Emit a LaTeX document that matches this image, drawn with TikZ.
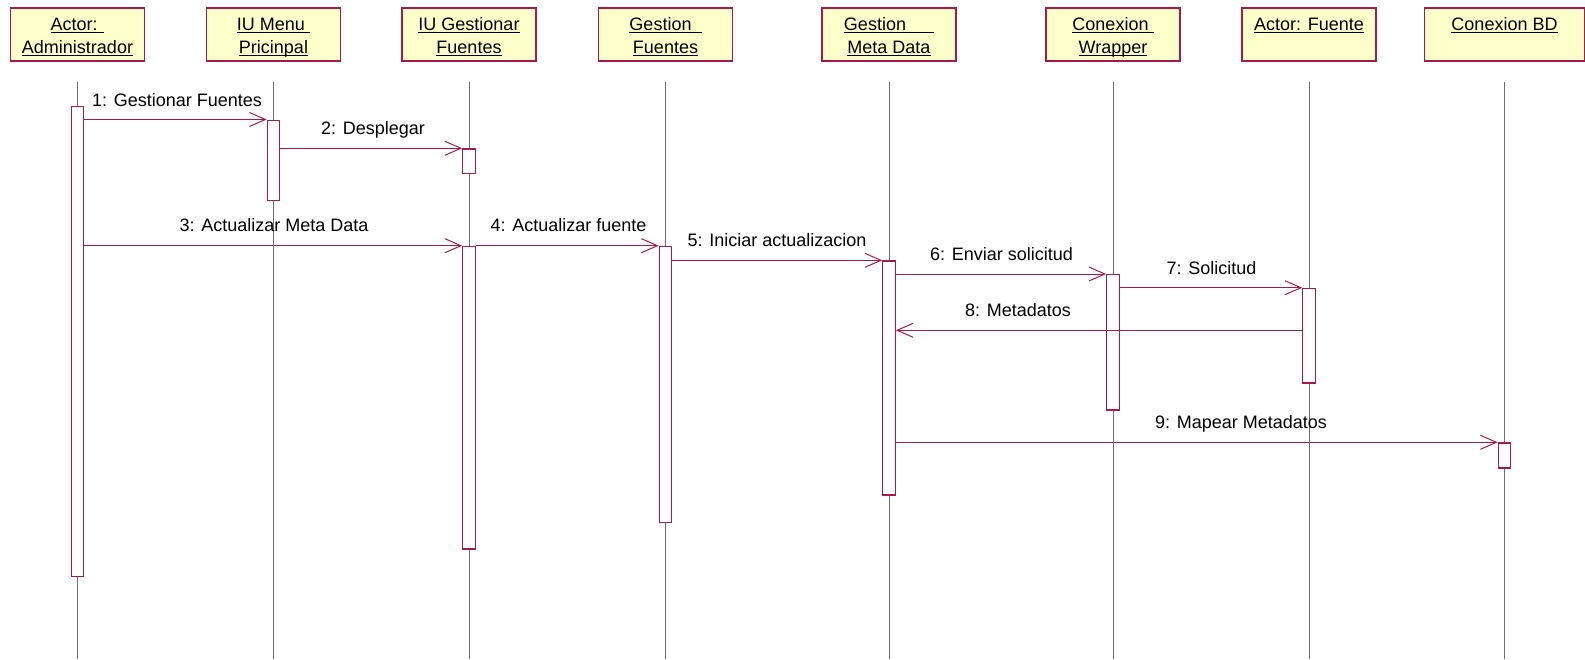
\documentclass[tikz,border=0pt]{standalone}
\usepackage{fontspec}
\setmainfont{Liberation Sans}
\usetikzlibrary{arrows.meta}

\definecolor{umlred}{RGB}{165,25,75}
\definecolor{objfill}{RGB}{255,255,204}
\definecolor{lifegray}{RGB}{110,110,110}

% underlined object name, rule set just below the baseline
\newcommand\ult[1]{\leavevmode\setbox0\hbox{#1}\rlap{\rule[-2.2pt]{\wd0}{1pt}}\box0}
% two-line object header, text hanging from the top of the box
\newcommand\hdtext[2]{\parbox[c][53pt][t]{134pt}{\centering\baselineskip=22.7pt
  \rule{0pt}{22.7pt}\ult{#1}\par\ult{#2}\par}}

\tikzset{
  objbox/.style={draw=umlred, line width=1.2pt, fill=objfill, inner sep=0pt,
    minimum width=134pt, minimum height=53pt},
  lifeline/.style={draw=lifegray, line width=1pt},
  actbar/.style={draw=umlred, line width=1.2pt, fill=white, inner sep=0pt,
    minimum width=12.5pt, anchor=north},
  msg/.style={draw=umlred, line width=1pt,
    -{Straight Barb[length=16pt, width=14pt, line width=1pt]}},
  msglabel/.style={anchor=base, inner sep=0pt},
}

\begin{document}
\begin{tikzpicture}[x=1pt, y=-1pt, font=\fontsize{18pt}{22.7pt}\selectfont]
\useasboundingbox (0,0) rectangle (1585,659);

% object headers
\node[objbox] (admin)  at (77.5,34.5)   {\hdtext{Actor: }{Administrador}};
\node[objbox] (menu)   at (273.5,34.5)  {\hdtext{IU Menu }{Pricinpal}};
\node[objbox] (iugest) at (469,34.5)    {\hdtext{IU Gestionar}{Fuentes}};
\node[objbox] (gfuent) at (665.5,34.5)  {\hdtext{Gestion\kern10pt}{Fuentes}};
\node[objbox] (gmeta)  at (889,34.5)    {\hdtext{Gestion\kern28pt}{Meta Data}};
\node[objbox] (wrap)   at (1113,34.5)   {\hdtext{Conexion }{Wrapper}};
\node[objbox] (fuente) at (1309,34.5)   {\hdtext{Actor: Fuente}{}};
\node[objbox, minimum width=160pt] (bd) at (1504.5,34.5) {\hdtext{Conexion BD}{}};

% lifelines
\coordinate (bottom) at (0,659);
\foreach \o in {admin,menu,iugest,gfuent,gmeta,wrap,fuente,bd}
  \draw[lifeline] ([yshift=-20pt]\o.south) -- (\o.south |- bottom);

% activation bars
\path (admin.center |- 0,106)    node[actbar, minimum height=470pt] (a1) {};
\path (menu.center |- 0,119.5)   node[actbar, minimum height=80.5pt] (m1) {};
\path (iugest.center |- 0,148.3) node[actbar, minimum height=24.7pt] (i1) {};
\path (iugest.center |- 0,245.7) node[actbar, minimum height=302.6pt] (i2) {};
\path (gfuent.center |- 0,245.7) node[actbar, minimum height=276pt] (f1) {};
\path (gmeta.center |- 0,260.3)  node[actbar, minimum height=234pt] (g1) {};
\path (wrap.center |- 0,274)     node[actbar, minimum height=135.3pt] (w1) {};
\path (fuente.center |- 0,287.7) node[actbar, minimum height=94.6pt] (s1) {};
\path (bd.center |- 0,442.3)     node[actbar, minimum height=25pt] (d1) {};

% messages
\draw[msg] (a1.east |- m1.north west) -- (m1.north west);
\draw[msg] (m1.east |- i1.north west) -- (i1.north west);
\draw[msg] (a1.east |- i2.north west) -- (i2.north west);
\draw[msg] (i2.north east) -- (f1.north west);
\draw[msg] (f1.east |- g1.north west) -- (g1.north west);
\draw[msg] (g1.east |- w1.north west) -- (w1.north west);
\draw[msg] (w1.east |- s1.north west) -- (s1.north west);
\coordinate (r8) at (0,330.3);
\draw[msg] (s1.west |- r8) -- (g1.east |- r8);
\draw[msg] (g1.east |- d1.north west) -- (d1.north west);

% message labels
\node[msglabel] (l1) at (177,106)    {1: Gestionar Fuentes};
\node[msglabel] (l2) at (373,134.3)  {2: Desplegar};
\node[msglabel] (l3) at (274,231.7)  {3: Actualizar Meta Data};
\node[msglabel] (l4) at (568.5,231.7) {4: Actualizar fuente};
\node[msglabel] (l5) at (777,246.3)  {5: Iniciar actualizacion};
\node[msglabel] (l6) at (1001.5,260) {6: Enviar solicitud};
\node[msglabel] (l7) at (1211.5,274) {7: Solicitud};
\node[msglabel] (l8) at (1018,316.3) {8: Metadatos};
\node[msglabel] (l9) at (1241,428.3) {9: Mapear Metadatos};
\end{tikzpicture}
\end{document}
